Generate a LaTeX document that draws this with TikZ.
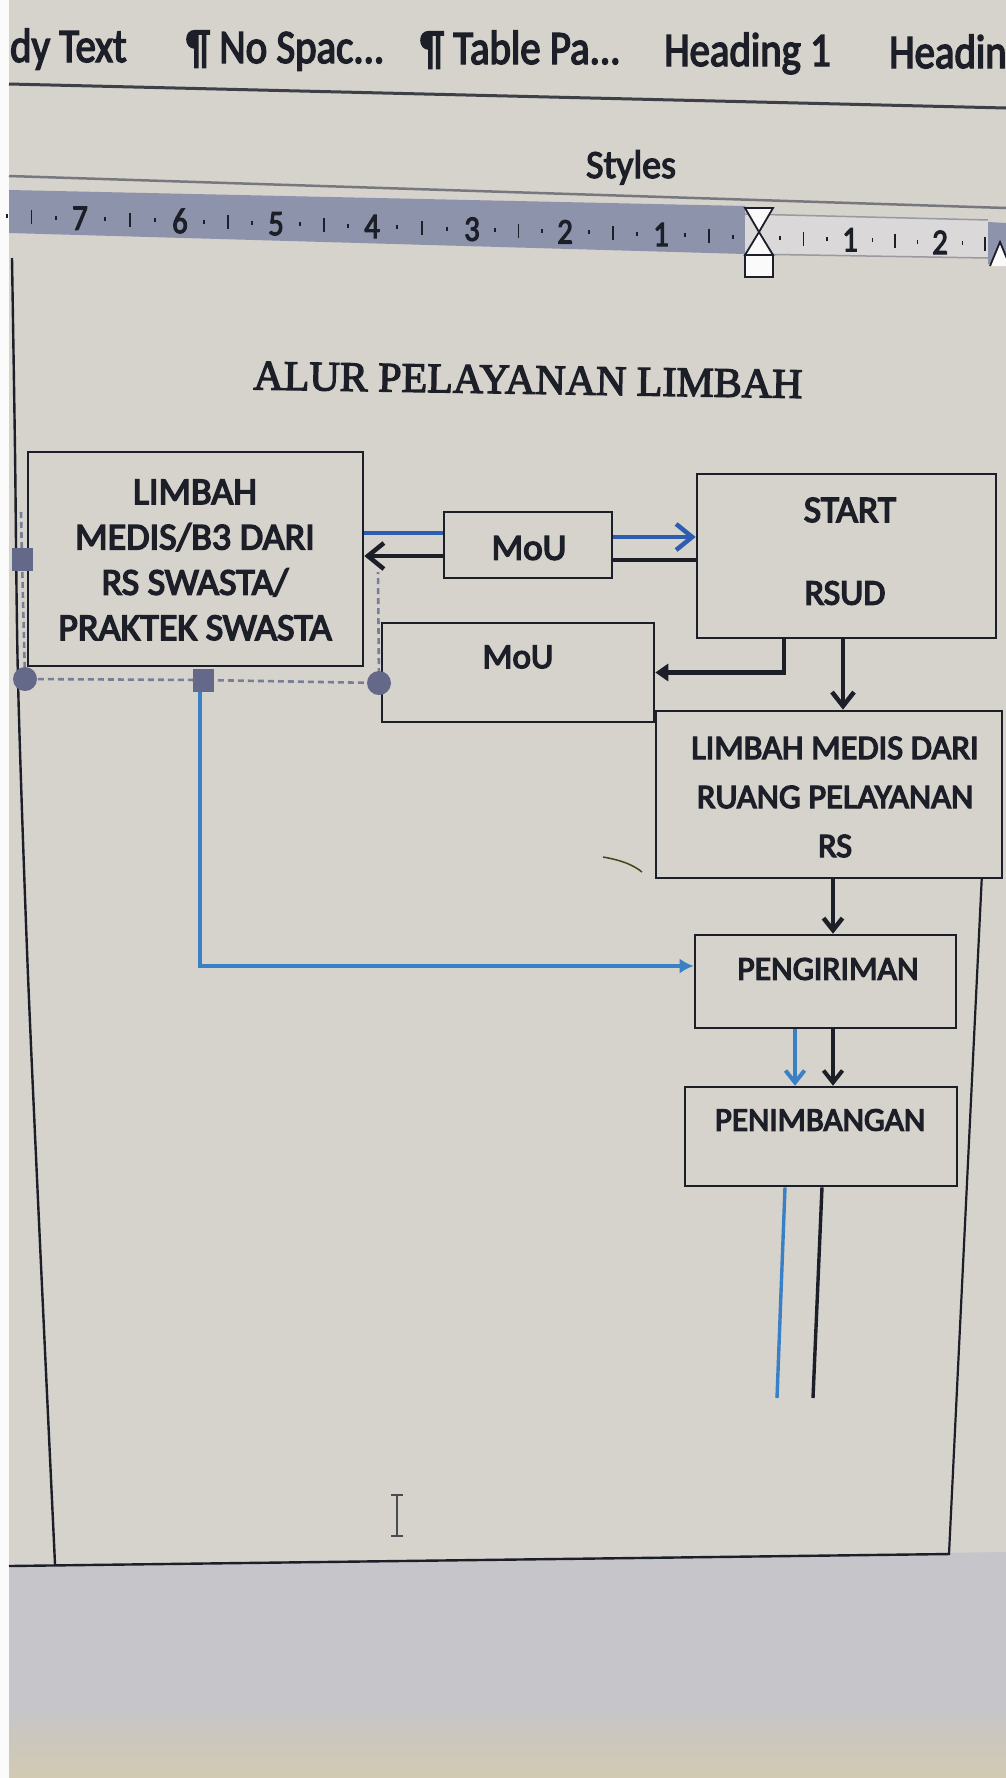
\documentclass[tikz,border=0pt]{standalone}
\usepackage{fontspec}
\setmainfont{Carlito}
\newfontfamily\boxfont[FakeBold=4]{Carlito}
\newfontfamily\uifont[FakeStretch=0.85,FakeBold=3]{Carlito}
\newfontfamily\stylefont[FakeStretch=0.95,FakeBold=3]{Carlito}
\newfontfamily\titlefont[FakeBold=3]{Liberation Serif}
\usetikzlibrary{arrows.meta}
\definecolor{bgc}{RGB}{214,210,204}
\definecolor{lowc}{RGB}{198,197,201}
\definecolor{rulg}{RGB}{142,147,172}
\definecolor{rulw}{RGB}{218,216,216}
\definecolor{ink}{RGB}{28,30,40}
\definecolor{bluA}{RGB}{45,92,176}
\definecolor{bluB}{RGB}{58,128,196}
\definecolor{handle}{RGB}{100,105,138}
\definecolor{dashc}{RGB}{120,126,150}
\begin{document}
\begin{tikzpicture}[x=1pt,y=-1pt,
  box/.style={draw=ink, line width=2.6pt, fill=bgc, rectangle, inner sep=0pt},
  btxt/.style={text=ink, inner sep=0pt, align=center},
  tb/.style={font=\uifont\fontsize{48}{48}\selectfont, text=ink, inner sep=0pt, anchor=base west},
  kline/.style={draw=ink, line width=4.5pt},
  bline/.style={draw=bluA, line width=4.5pt},
  cline/.style={draw=bluB, line width=3.4pt},
  barbBig/.style={-{Straight Barb[length=16pt,width=26pt]}},
  barbMid/.style={-{Straight Barb[length=14pt,width=22pt]}},
  barbSm/.style={-{Straight Barb[length=12pt,width=19pt]}},
  hcirc/.style={circle, fill=handle, minimum size=24pt, inner sep=0pt},
  hsq/.style={rectangle, fill=handle, minimum width=21pt, minimum height=23pt, inner sep=0pt},
  selframe/.style={draw=dashc, line width=2.6pt, dash pattern=on 6pt off 4pt}
]
\useasboundingbox (0,0) rectangle (1006,1778);
% background
\fill[bgc] (0,0) rectangle (1006,1778);
\fill[lowc] (0,1566) -- (1006,1552) -- (1006,1778) -- (0,1778) -- cycle;
\shade[top color=lowc, bottom color={rgb,255:red,210;green,202;blue,178}] (0,1705) rectangle (1006,1778);
\fill[white!92!bgc] (0,0) rectangle (9,1778);

% toolbar
\node[tb] (s1) at (10,62) {dy Text};
\node[tb] (s2) at (186,63) {¶ No Spac...};
\node[tb] (s3) at (420,64) {¶ Table Pa...};
\node[tb] (s4) at (664,66) {Heading 1};
\node[tb] (s5) at (889,68) {Headin};
\draw[ink!85, line width=3pt] (9,84) -- (1006,108);
\node[font=\stylefont\fontsize{40}{40}\selectfont, text=ink, inner sep=0pt, anchor=base] (styles) at (631,178) {Styles};
\draw[ink!60, line width=2.5pt] (9,176) -- (1006,208);

% ruler
\fill[rulg] (9,190) -- (745,206) -- (745,254) -- (9,233) -- cycle;
\fill[rulw] (745,214) -- (988,220) -- (988,258) -- (745,254) -- cycle;
\draw[ink!45, line width=1.5pt] (745,214) -- (988,220);
\draw[ink!45, line width=1.5pt] (745,254) -- (988,258);
\fill[rulg] (988,222) -- (1006,223) -- (1006,266) -- (988,264) -- cycle;
\foreach \a/\b in {-17/80,80/180,180/276,276/372,372/472,472/565,565/661,661/757,757/850,850/940,940/1030}{
  \pgfmathsetmacro{\qa}{\a+0.25*(\b-\a)}
  \pgfmathsetmacro{\qb}{\a+0.5*(\b-\a)}
  \pgfmathsetmacro{\qc}{\a+0.75*(\b-\a)}
  \pgfmathsetmacro{\ya}{216+0.028*\qa}
  \pgfmathsetmacro{\yb}{216+0.028*\qb}
  \pgfmathsetmacro{\yc}{216+0.028*\qc}
  \draw[ink, line width=1.8pt] (\qa,{\ya-2}) -- (\qa,{\ya+2});
  \draw[ink, line width=1.8pt] (\qb,{\yb-7}) -- (\qb,{\yb+7});
  \draw[ink, line width=1.8pt] (\qc,{\yc-2}) -- (\qc,{\yc+2});
}
\foreach \x/\n in {80/7,180/6,276/5,372/4,472/3,565/2,661/1,850/1,940/2}{
  \node[font=\uifont\fontsize{36}{36}\selectfont, text=ink, inner sep=0pt] at (\x,{216+0.028*\x}) {\n};
}
\draw[ink, line width=1.8pt, fill=white!90!bgc] (745,208) -- (773,208) -- (759,232) -- cycle;
\draw[ink, line width=1.8pt, fill=white!90!bgc] (759,232) -- (773,255) -- (745,255) -- cycle;
\draw[ink, line width=1.8pt, fill=white!90!bgc] (745,255) rectangle (773,277);
\draw[ink, line width=1.8pt, fill=white!90!bgc] (990,266) -- (1000,242) -- (1010,266);

% page borders
\draw[ink, line width=2.4pt] plot[smooth] coordinates {(12,258) (15,450) (18,680) (27,950) (38,1200) (55,1564)};
\draw[ink, line width=2.4pt] (9,1566) -- (950,1554);
\draw[ink, line width=2.2pt] (987,770) -- (949,1554);

% title
\node[font=\titlefont\fontsize{42}{48}\selectfont, text=ink, inner sep=0pt, rotate=-0.9] (title) at (528,380) {ALUR PELAYANAN LIMBAH};

% selection frame (drawn under handles)
\coordinate (fl) at (21,512);
\coordinate (fr) at (378,572);
\draw[selframe] (fl) -- (22,559) -- (25,679) -- (203,680) -- (379,683) -- (fr);

% boxes
\node[box, minimum width=335pt, minimum height=214pt] (limbah) at (195.5,559) {};
\node[box, minimum width=168pt, minimum height=66pt] (mou1) at (528,545) {};
\node[box, minimum width=299pt, minimum height=164pt] (start) at (846.5,556) {};
\node[box, minimum width=272pt, minimum height=99pt] (mou2) at (518,672.5) {};
\node[box, minimum width=346pt, minimum height=167pt] (rs) at (829,794.5) {};
\node[box, minimum width=261pt, minimum height=93pt] (peng) at (825.5,981.5) {};
\node[box, minimum width=272pt, minimum height=99pt] (penim) at (821,1136.5) {};

% handles
\node[hsq] (hml) at (22,559) {};
\node[hcirc] (hbl) at (25,679) {};
\node[hsq] (hbm) at (203,680) {};
\node[hcirc] (hbr) at (379,683) {};

% texts
\node[btxt, font=\boxfont\fontsize{38}{45.3}\selectfont] (tlimbah) at (195,560) {LIMBAH\\MEDIS/B3 DARI\\RS SWASTA/\\PRAKTEK SWASTA};
\node[btxt, font=\boxfont\fontsize{37}{40}\selectfont] (tmou1) at (529,548) {MoU};
\node[btxt, font=\boxfont\fontsize{37.5}{40}\selectfont] (tstart) at (850,510) {START};
\node[btxt, font=\boxfont\fontsize{36}{40}\selectfont] (trsud) at (845,593) {RSUD};
\node[btxt, font=\boxfont\fontsize{35}{40}\selectfont] (tmou2) at (518,657) {MoU};
\node[btxt, font=\boxfont\fontsize{34.4}{49}\selectfont] (trs) at (835,797) {LIMBAH MEDIS DARI\\RUANG PELAYANAN\\RS};
\node[btxt, font=\boxfont\fontsize{33.5}{40}\selectfont] (tpeng) at (828,969) {PENGIRIMAN};
\node[btxt, font=\boxfont\fontsize{33}{40}\selectfont] (tpenim) at (820,1120) {PENIMBANGAN};

% connectors between LIMBAH, MoU and START
\coordinate (b1) at ([yshift=12pt]mou1.west);
\coordinate (b2) at ([yshift=8pt]mou1.east);
\coordinate (k1) at ([yshift=-15pt]mou1.east);
\coordinate (k2) at ([yshift=-11pt]mou1.west);
\draw[bline] (b1 -| limbah.east) -- (b1);
\draw[bline, barbBig] (b2) -- (b2 -| start.west);
\draw[kline] (k1 -| start.west) -- (k1);
\draw[kline, barbBig] (k2) -- (k2 -| limbah.east);

% START -> MoU (lower)
\draw[kline, -{Triangle[length=13pt,width=17pt]}] ([xshift=-62.5pt]start.south) |- (mou2.east);
% START -> RS
\draw[kline, barbMid] ([xshift=-3.5pt]start.south) -- ([xshift=-3.5pt]start.south |- rs.north);
% RS -> PENGIRIMAN
\draw[kline, barbSm] ([xshift=4pt]rs.south) -- ([xshift=4pt]rs.south |- peng.north);
% PENGIRIMAN -> PENIMBANGAN
\draw[cline, line width=4pt, barbSm] ([xshift=-30.5pt]peng.south) -- ([xshift=-30.5pt]peng.south |- penim.north);
\draw[kline, line width=4pt, barbSm] ([xshift=7.5pt]peng.south) -- ([xshift=7.5pt]peng.south |- penim.north);
% handle -> PENGIRIMAN (blue)
\draw[cline, -{Latex[length=14pt,width=15pt]}] ([xshift=-3pt]hbm.south) |- ([yshift=15.5pt]peng.west);
% lines below PENIMBANGAN
\coordinate (bend) at (777,1398);
\coordinate (kend) at (813,1398);
\draw[cline] ([xshift=-36pt]penim.south) -- (bend);
\draw[draw=ink, line width=3.4pt] ([xshift=1pt]penim.south) -- (kend);

% cursor and scratch
\draw[ink!80, line width=1.8pt] (397,1496) -- (397,1535);
\draw[ink!80, line width=1.6pt] (391,1495) -- (403,1495);
\draw[ink!80, line width=1.6pt] (391,1536) -- (403,1536);
\draw[ink!60!olive, line width=1.5pt] (603,857) .. controls (620,860) and (632,864) .. (642,872);
\end{tikzpicture}
\end{document}
